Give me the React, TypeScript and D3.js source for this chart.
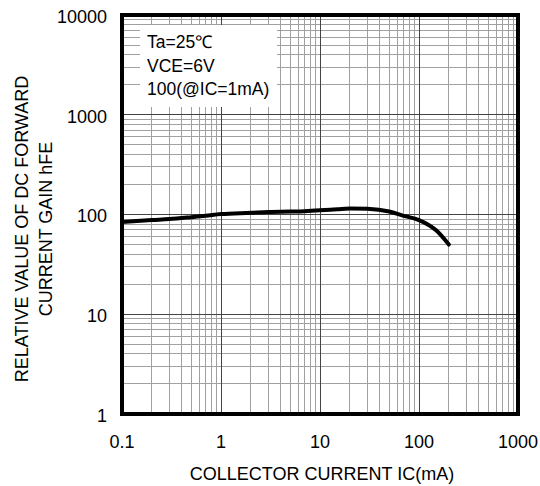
import React from 'react';
import * as d3 from 'd3';

// collector current IC (mA) and relative hFE
const icValues = [0.1, 0.2, 0.3, 0.5, 0.7, 1, 2, 3, 5, 7, 10, 15, 20, 30, 50, 70, 100, 150, 200];
const hfeValues = [84, 88, 90, 94, 97, 101, 104, 106, 107, 108, 110, 113, 115, 114, 107, 97, 88, 69, 50];

const xTicks = [0.1, 1, 10, 100, 1000];
const yTicks = [1, 10, 100, 1000, 10000];
const legendLines = ['Ta=25℃', 'VCE=6V', '100(@IC=1mA)'];

const FONT = '"Liberation Sans", Arial, sans-serif';

const minorTicks = (lo: number, hi: number) => {
  const out: number[] = [];
  for (let d = lo; d < hi; d *= 10) {
    for (let k = 2; k <= 9; k++) out.push(d * k);
  }
  return out;
};

const App = () => {
  const width = 540;
  const height = 486;
  const left = 122, right = 518, top = 15, bottom = 414;

  const x = d3.scaleLog().domain([0.1, 1000]).range([left, right]);
  const y = d3.scaleLog().domain([1, 10000]).range([bottom, top]);

  const line = d3.line<number>()
    .x((d, i) => x(icValues[i]))
    .y(d => y(d))
    .curve(d3.curveMonotoneX);

  const xMinor = minorTicks(0.1, 1000);
  const yMinor = minorTicks(1, 10000);

  return (
    <svg width={width} height={height} style={{ position: 'absolute', left: 0, top: 0 }}>
      <rect width={width} height={height} fill="#fff" />
      {/* grid */}
      <g shapeRendering="crispEdges">
        {xMinor.map(v => (
          <line key={'xm' + v} x1={x(v)} x2={x(v)} y1={top} y2={bottom} stroke="#a0a0a0" strokeWidth={1} />
        ))}
        {yMinor.map(v => (
          <line key={'ym' + v} x1={left} x2={right} y1={y(v)} y2={y(v)} stroke="#a0a0a0" strokeWidth={1} />
        ))}
        {xTicks.map(v => (
          <line key={'xM' + v} x1={x(v)} x2={x(v)} y1={top} y2={bottom} stroke="#444" strokeWidth={1} />
        ))}
        {yTicks.map(v => (
          <line key={'yM' + v} x1={left} x2={right} y1={y(v)} y2={y(v)} stroke="#444" strokeWidth={1} />
        ))}
      </g>

      {/* legend box */}
      <rect x={140} y={25} width={137} height={82} fill="#fff" />
      {legendLines.map((t, i) => (
        <text key={t} x={147} y={48 + i * 23.5} fontFamily={FONT} fontSize={17.5} fill="#000">{t}</text>
      ))}

      {/* curve */}
      <path d={line(hfeValues) || ''} fill="none" stroke="#000" strokeWidth={4} strokeLinejoin="round" strokeLinecap="round" />

      {/* frame */}
      <rect x={left} y={top} width={right - left} height={bottom - top} fill="none" stroke="#000" strokeWidth={4} />

      {/* tick labels */}
      {yTicks.map(v => (
        <text key={'yl' + v} x={107} y={y(v) + 1.5} dy="0.35em" textAnchor="end" fontFamily={FONT} fontSize={18}>
          {String(v)}
        </text>
      ))}
      {xTicks.map(v => (
        <text key={'xl' + v} x={x(v)} y={448} textAnchor="middle" fontFamily={FONT} fontSize={18}>
          {String(v)}
        </text>
      ))}

      {/* axis titles */}
      <text x={322} y={480} textAnchor="middle" fontFamily={FONT} fontSize={18}>
        COLLECTOR CURRENT IC(mA)
      </text>
      <g transform="translate(0, 229) rotate(-90)">
        <text x={0} y={28} textAnchor="middle" fontFamily={FONT} fontSize={18}>RELATIVE VALUE OF DC FORWARD</text>
        <text x={0} y={52} textAnchor="middle" fontFamily={FONT} fontSize={18}>CURRENT GAIN hFE</text>
      </g>
    </svg>
  );
};

export default App;
